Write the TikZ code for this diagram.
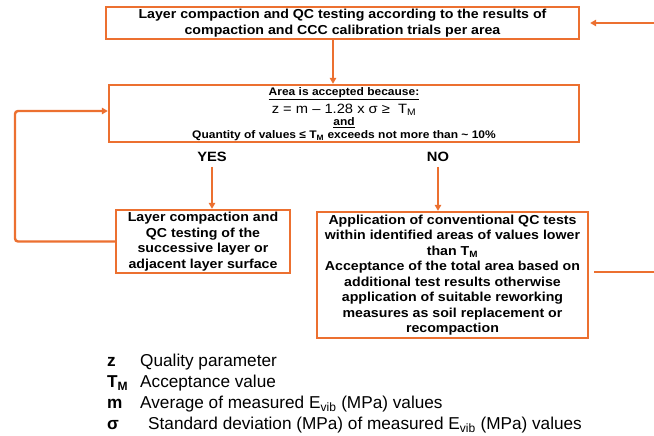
\documentclass[tikz,border=0pt]{standalone}
\usepackage{fontspec}
\setmainfont{Liberation Sans}
\newfontfamily\boxfont{Liberation Sans}[FakeStretch=1.09,Ligatures=TeX]
\usetikzlibrary{arrows.meta}
\definecolor{org}{RGB}{236,112,48}
\begin{document}
\begin{tikzpicture}[x=1pt,y=-1pt,
  box/.style={draw=org,line width=2.4pt,inner sep=0pt,align=center,
    font=\boxfont\bfseries\fontsize{13}{15.5}\selectfont},
  arr/.style={draw=org,line width=2.4pt,-{Triangle[length=6pt,width=6.5pt]}},
  ln/.style={draw=org,line width=2.4pt},
  lbl/.style={inner sep=0pt,font=\boxfont\bfseries\fontsize{13.5}{15}\selectfont},
  mtxt/.style={inner sep=0pt,font=\boxfont\bfseries\fontsize{11}{13}\selectfont},
  mform/.style={inner sep=0pt,font=\boxfont\fontsize{13.5}{15}\selectfont},
  legsym/.style={anchor=west,inner sep=0pt,font=\bfseries\fontsize{17.2}{20}\selectfont},
  legtxt/.style={anchor=west,inner sep=0pt,font=\fontsize{17.2}{20}\selectfont}]
\useasboundingbox[fill=white] (0,0) rectangle (654,436);

% boxes
\node[box,minimum width=473pt,minimum height=32pt] (top) at (342.5,23)
  {Layer compaction and QC testing according to the results of\\compaction and CCC calibration trials per area};
\node[box,minimum width=470pt,minimum height=57pt] (mid) at (344,113.5) {};
\node[mtxt] (m1) at (344,94) {\underline{Area is accepted because:}};
\node[mform] (m2) at (344,109.5) {z = m – 1.28 x σ ≥\ \ T\textsubscript{M}};
\node[mtxt] (m3) at (344,123) {\underline{and}};
\node[mtxt] (m4) at (344,136) {Quantity of values ≤ T\textsubscript{M} exceeds not more than \textasciitilde\ 10\%};

\node[box,minimum width=174pt,minimum height=63pt] (lbox) at (203,241.5)
  {Layer compaction and\\QC testing of the\\successive layer or\\adjacent layer surface};
\node[box,minimum width=271pt,minimum height=126pt] (rbox) at (452.5,275)
  {Application of conventional QC tests\\within identified areas of values lower\\than T\textsubscript{M}\\Acceptance of the total area based on\\additional test results otherwise\\application of suitable reworking\\measures as soil replacement or\\recompaction};

% labels
\node[lbl] (yes) at (212,157) {YES};
\node[lbl] (no) at (438,157) {NO};

% connectors
\coordinate (xa) at (333,0);
\draw[arr] (top.south -| xa) -- (mid.north -| xa);
\draw[arr,shorten <=5pt] (yes.south) -- (lbox.north -| yes.south);
\draw[arr,shorten <=5pt] (no.south) -- (rbox.north -| no.south);
\coordinate (lp) at (15,111);
\draw[arr,rounded corners=3pt] (lbox.west) -| (lp) -- (lp -| mid.west);
\coordinate (re1) at (654,23);
\draw[arr,shorten >=10pt] (re1) -- (top.east |- re1);
\coordinate (re2) at (654,272);
\draw[ln,shorten <=5pt] (rbox.east |- re2) -- (re2);

% legend
\node[legsym] (lz) at (107,362) {z};
\node[legtxt] (lzt) at (140,362) {Quality parameter};
\node[legsym] (lt) at (107,383) {T\textsubscript{M}};
\node[legtxt] (ltt) at (140,383) {Acceptance value};
\node[legsym] (lm) at (107,404) {m};
\node[legtxt] (lmt) at (140,404) {Average of measured E\textsubscript{vib} (MPa) values};
\node[legsym] (ls) at (107,425) {σ};
\node[legtxt] (lst) at (148,425) {Standard deviation (MPa) of measured E\textsubscript{vib} (MPa) values};
\end{tikzpicture}
\end{document}
